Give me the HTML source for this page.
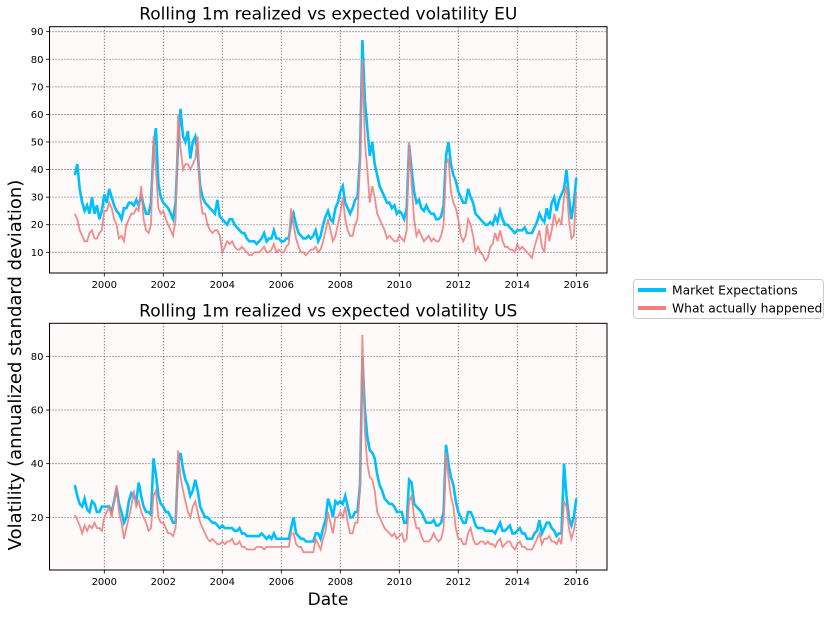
<!DOCTYPE html>
<html><head><meta charset="utf-8"><style>
body{margin:0;background:#fff;font-family:"Liberation Sans","DejaVu Sans",sans-serif}
svg text{font-family:"DejaVu Sans","Liberation Sans",sans-serif}
</style></head><body>
<svg id="c" width="831" height="616" xmlns="http://www.w3.org/2000/svg"></svg>
<script>
const startYear = 1999.0;
const euExpected = [38,42,33,28,25,27,24,30,24,27,22,25, 31,28,33,30,27,25,24,22,26,26,28,28, 27,29,27,31,27,24,24,28,48,55,35,30, 28,27,26,24,22,28,50,62,52,50,54,44, 50,52,46,34,30,28,27,26,25,24,29,23, 22,21,20,22,22,20,19,18,17,17,15,14, 14,14,13,14,15,17,14,15,15,18,15,15, 14,14,15,15,21,24,20,17,16,15,15,16, 15,16,18,14,16,20,23,25,22,21,26,28, 32,34,28,26,24,26,29,30,44,87,65,55, 45,50,42,38,34,32,30,28,28,26,27,24, 25,24,22,26,49,40,32,28,29,26,25,27, 25,24,24,22,22,23,27,45,50,42,38,36, 32,30,28,28,33,30,28,24,23,22,21,20, 20,21,20,23,21,25,22,20,20,19,18,17, 18,18,18,19,17,17,17,19,21,24,22,21, 26,22,28,30,25,29,31,33,40,30,22,28, 37];
const euRealized = [24,22,18,16,14,14,17,18,15,15,17,18, 25,25,28,26,22,20,15,16,14,20,22,24, 24,26,25,34,22,18,17,20,52,40,26,24, 25,22,20,18,16,22,60,48,40,42,42,40, 42,44,52,30,24,24,20,18,17,18,18,16, 10,12,14,13,14,12,11,11,12,11,10,9, 9,10,10,10,11,12,10,10,11,13,10,11, 10,10,12,13,26,20,15,12,10,10,9,10, 11,11,12,10,11,14,18,22,18,14,16,20, 24,30,22,18,16,16,20,22,42,80,50,40, 28,34,30,24,22,20,18,15,16,15,14,14, 16,15,14,18,50,35,22,16,18,16,14,15, 16,14,15,14,14,16,20,42,44,32,28,26, 22,16,14,16,22,20,16,10,12,10,9,7, 8,12,13,17,14,18,14,12,12,11,11,10, 13,11,12,11,10,9,8,12,15,18,12,10, 20,14,18,24,20,22,20,30,34,22,15,16, 32];
const usExpected = [32,28,25,24,27,23,22,26,25,22,22,24, 24,24,24,22,26,31,25,22,18,20,26,29, 28,26,33,28,24,22,22,21,42,36,28,25, 24,22,22,20,18,18,40,44,38,34,32,28, 30,34,30,24,22,20,20,19,18,18,17,16, 17,16,16,16,16,15,15,16,14,14,13,13, 13,13,13,13,14,13,12,13,12,14,12,12, 12,12,12,12,16,20,14,13,12,12,11,11, 11,11,14,14,12,16,19,27,24,20,26,25, 26,25,28,24,20,20,22,22,32,80,60,50, 45,44,42,36,32,30,27,26,25,25,24,22, 22,22,18,18,34,33,25,24,23,22,20,18, 18,18,19,17,17,18,22,47,40,35,32,26, 22,20,18,18,22,22,20,17,16,16,16,15, 15,15,15,14,16,18,15,15,16,17,14,14, 15,16,14,14,12,12,12,14,15,19,14,16, 18,18,16,15,13,14,14,40,28,20,17,20, 27];
const usRealized = [21,19,17,14,17,15,17,16,18,16,16,15, 20,22,24,20,26,32,22,18,12,16,20,24, 30,24,26,22,20,18,15,16,28,30,20,18, 18,16,14,14,13,16,45,35,30,26,22,20, 24,26,22,18,16,14,12,11,12,11,10,10, 11,10,11,11,12,10,10,11,9,9,8,8, 8,8,9,9,9,8,9,9,9,9,9,9, 9,9,9,9,14,14,10,9,9,7,7,7, 7,7,12,10,8,12,15,22,18,14,20,20, 22,20,24,18,14,14,18,18,30,88,52,40, 35,34,30,22,20,18,16,15,14,13,14,12, 13,14,11,12,26,28,20,16,16,13,11,11, 11,12,14,12,11,12,16,44,35,28,24,16, 12,12,10,10,14,16,12,10,10,11,11,10, 11,10,10,9,11,12,9,10,11,11,9,8, 10,11,9,9,8,8,8,10,12,14,10,12, 12,13,11,11,10,12,10,26,24,16,12,15, 20];
const xTicks = [2000,2002,2004,2006,2008,2010,2012,2014,2016];
const euYTicks = [10,20,30,40,50,60,70,80,90];
const usYTicks = [20,40,60,80];

const NS="http://www.w3.org/2000/svg";
const svg=document.getElementById('c');
function mk(tag,attrs,parent){const e=document.createElementNS(NS,tag);for(const k in attrs)e.setAttribute(k,attrs[k]);(parent||svg).appendChild(e);return e;}
const L=49.5,R=607;
const xs=yr=>104.3+(yr-2000)*29.5;

function panel(key,top,bottom,ymap,yTicks,title,exp,real){
  const g=mk('g',{});
  
  
  const bg=mk('rect',{x:L,y:top,width:R-L,height:bottom-top,fill:'#fffafa'},g);
  
  
  xTicks.forEach(t=>{const x=xs(t);
    const gl=mk('line',{x1:x,x2:x,y1:top,y2:bottom,stroke:'#333','stroke-width':0.8,'stroke-dasharray':'1,2'},g);
    
    
    mk('line',{x1:x,x2:x,y1:bottom,y2:bottom+3.5,stroke:'#000','stroke-width':0.8},g);
    const tx=mk('text',{x:x,y:bottom+15,'font-size':10,'text-anchor':'middle',fill:'#000'},g);tx.textContent=t;
    
    
  });
  yTicks.forEach(t=>{const y=ymap(t);
    const gl=mk('line',{x1:L,x2:R,y1:y,y2:y,stroke:'#333','stroke-width':0.8,'stroke-dasharray':'1,2'},g);
    
    
    mk('line',{x1:L-3.5,x2:L,y1:y,y2:y,stroke:'#000','stroke-width':0.8},g);
    const tx=mk('text',{x:L-6,y:y+3.5,'font-size':10,'text-anchor':'end',fill:'#000'},g);tx.textContent=t;
    
    
  });
  const pts=a=>a.map((v,i)=>xs(startYear+i/12).toFixed(1)+','+ymap(v).toFixed(1)).join(' ');
  const pe=mk('polyline',{points:pts(exp),fill:'none',stroke:'#00bfff','stroke-width':2.6,'stroke-linejoin':'miter'},g);
  
  
  const pr=mk('polyline',{points:pts(real),fill:'none',stroke:'#f08080','stroke-width':1.8,'stroke-opacity':0.9,'stroke-linejoin':'miter'},g);
  
  
  const fr=mk('rect',{x:L,y:top,width:R-L,height:bottom-top,fill:'none',stroke:'#000','stroke-width':1},g);
  
  
  const ti=mk('text',{x:(L+R)/2,y:top-7,'font-size':17,'text-anchor':'middle',fill:'#000'},g);ti.textContent=title;
  
  
}
panel('eu',26.7,273,v=>279.9-v*2.758,euYTicks,'Rolling 1m realized vs expected volatility EU',euExpected,euRealized);
panel('us',323.3,570,v=>571-v*2.683,usYTicks,'Rolling 1m realized vs expected volatility US',usExpected,usRealized);

const yl=mk('text',{x:0,y:0,'font-size':18,'text-anchor':'middle',transform:'translate(21,365) rotate(-90)',fill:'#000'});
yl.textContent='Volatility (annualized standard deviation)';


const xl=mk('text',{x:328,y:605,'font-size':17,'text-anchor':'middle',fill:'#000'});
xl.textContent='Date';



const lg=mk('g',{});


mk('rect',{x:633.5,y:279.5,width:190,height:39,rx:3,fill:'#fff',stroke:'#ccc','stroke-width':1},lg);
const items=[['Market Expectations','#00bfff'],['What actually happened','#f08080']];
items.forEach((it,i)=>{const y=290+i*18;
  const e=mk('line',{x1:638,x2:666,y1:y,y2:y,stroke:it[1],'stroke-width':4},lg);
  
  
  const t=mk('text',{x:672,y:y+4.5,'font-size':12.3,fill:'#000'},lg);t.textContent=it[0];
  
  
});
</script>
</body></html>
